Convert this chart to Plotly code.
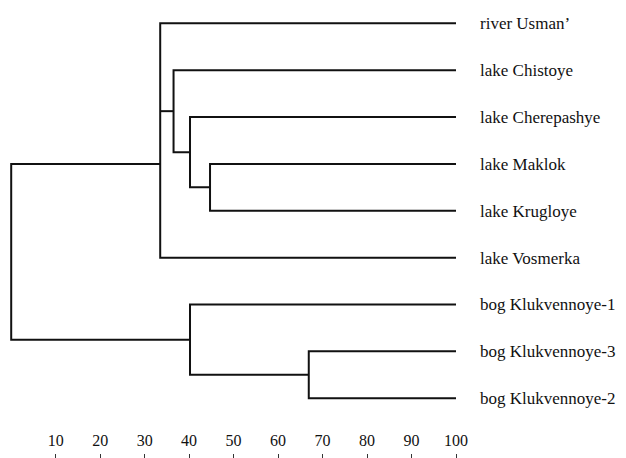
import plotly.graph_objects as go

# ---- data ----
leaves = ["river Usman’", "lake Chistoye", "lake Cherepashye", "lake Maklok",
          "lake Krugloye", "lake Vosmerka", "bog Klukvennoye-1",
          "bog Klukvennoye-3", "bog Klukvennoye-2"]
leaf_level = 100  # similarity at which leaves sit

node_names = ["A", "B", "C", "D", "E", "F", "root"]
node_heights = [44.7, 40.2, 36.5, 33.5, 66.9, 40.2, 0.0]
node_children = [[3, 4], [2, "A"], [1, "B"], [0, "C", 5], [7, 8], [6, "E"], ["D", "F"]]
node_join = {"D": 3.0}  # where the upper cluster is attached

tick_vals = [10, 20, 30, 40, 50, 60, 70, 80, 90, 100]

# ---- build segments ----
pos = {}
xs, ys = [], []
for name, h, ch in zip(node_names, node_heights, node_children):
    pts = []
    for c in ch:
        if isinstance(c, int):
            pts.append((leaf_level, float(c)))
        else:
            pts.append(pos[c])
    pts.sort(key=lambda p: p[1])
    first, last = pts[0], pts[-1]
    xs += [first[0], h, h, last[0], None]
    ys += [first[1], first[1], last[1], last[1], None]
    for p in pts[1:-1]:
        xs += [h, p[0], None]
        ys += [p[1], p[1], None]
    yj = node_join.get(name, (first[1] + last[1]) / 2)
    pos[name] = (h, yj)

fig = go.Figure()
fig.add_trace(go.Scatter(x=xs, y=ys, mode="lines",
                         line=dict(color="#111111", width=2),
                         hoverinfo="skip", showlegend=False))

fig.update_layout(
    width=618, height=450,
    margin=dict(l=0, r=170, t=0, b=0),
    paper_bgcolor="white", plot_bgcolor="white",
    font=dict(family="Liberation Serif", color="#111111"),
    xaxis=dict(range=[-0.72, 100], side="top", anchor="free", position=0,
               tickvals=tick_vals, ticks="outside", ticklen=4, tickwidth=1,
               tickcolor="#333333", showgrid=False, zeroline=False,
               showline=False, tickfont=dict(size=16), automargin=False,
               ticklabelstandoff=2),
    yaxis=dict(range=[9.275, -0.326], side="right", tickvals=list(range(len(leaves))),
               ticktext=leaves, showgrid=False, zeroline=False, showline=False,
               ticks="", tickfont=dict(size=17), automargin=False,
               ticklabelstandoff=23),
)

fig.write_html("out.html")
